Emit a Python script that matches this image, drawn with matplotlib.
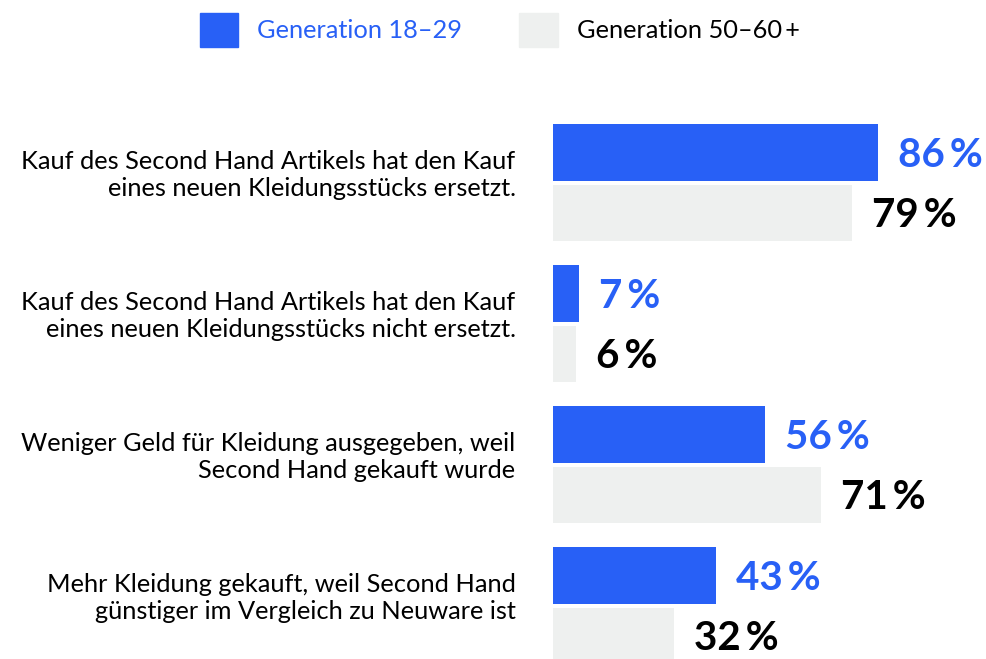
import matplotlib.pyplot as plt
from matplotlib.patches import Patch
import numpy as np

plt.rcParams['font.family'] = ['Lato', 'DejaVu Sans']

categories = [
    "Kauf des Second Hand Artikels hat den Kauf\neines neuen Kleidungsstücks ersetzt.",
    "Kauf des Second Hand Artikels hat den Kauf\neines neuen Kleidungsstücks nicht ersetzt.",
    "Weniger Geld für Kleidung ausgegeben, weil\nSecond Hand gekauft wurde",
    "Mehr Kleidung gekauft, weil Second Hand\ngünstiger im Vergleich zu Neuware ist",
]
young = [86, 7, 56, 43]
old = [79, 6, 71, 32]
series_names = ["Generation 18\u201329", "Generation 50\u201360\u2009+"]

blue = "#2860F6"
grey = "#EEF0EF"

fig = plt.figure(figsize=(9.87, 6.59), dpi=100)
W, H = 987, 659
ax = fig.add_axes([553 / W, 0, 1 - 553 / W, (659 - 80) / H])

y = np.arange(len(categories))
off = 0.2145
h = 0.404
ax.barh(y - off, young, height=h, color=blue)
ax.barh(y + off, old, height=h, color=grey)

for i in range(len(categories)):
    ax.text(young[i] + 5.3, y[i] - off + 0.02, f"{young[i]}\u2009%", color=blue,
            fontsize=29, fontweight='bold', va='center', ha='left')
    ax.text(old[i] + 5.3, y[i] + off + 0.02, f"{old[i]}\u2009%", color='black',
            fontsize=29, fontweight='bold', va='center', ha='left')

ax.set_xlim(0, 434 / 3.78)
ax.set_ylim((659 - 182.75) / 141, (80 - 182.75) / 141)
ax.set_yticks(y - 0.08)
ax.set_yticklabels(categories, fontsize=18.3, ha='right', multialignment='right')
ax.tick_params(axis='y', length=0, pad=27)
ax.set_xticks([])
for s in ax.spines.values():
    s.set_visible(False)

handles = [Patch(color=blue), Patch(color=grey)]
leg = fig.legend(handles, series_names, loc='center left',
                 bbox_to_anchor=(200 / W, 1 - 30 / H), ncol=2, frameon=False,
                 fontsize=18.3, handlelength=1.5, handleheight=1.7,
                 handletextpad=0.75, columnspacing=2.25, borderpad=0,
                 borderaxespad=0)
leg.get_texts()[0].set_color(blue)
leg.get_texts()[1].set_color('black')

fig.savefig("out.png", dpi=100)
